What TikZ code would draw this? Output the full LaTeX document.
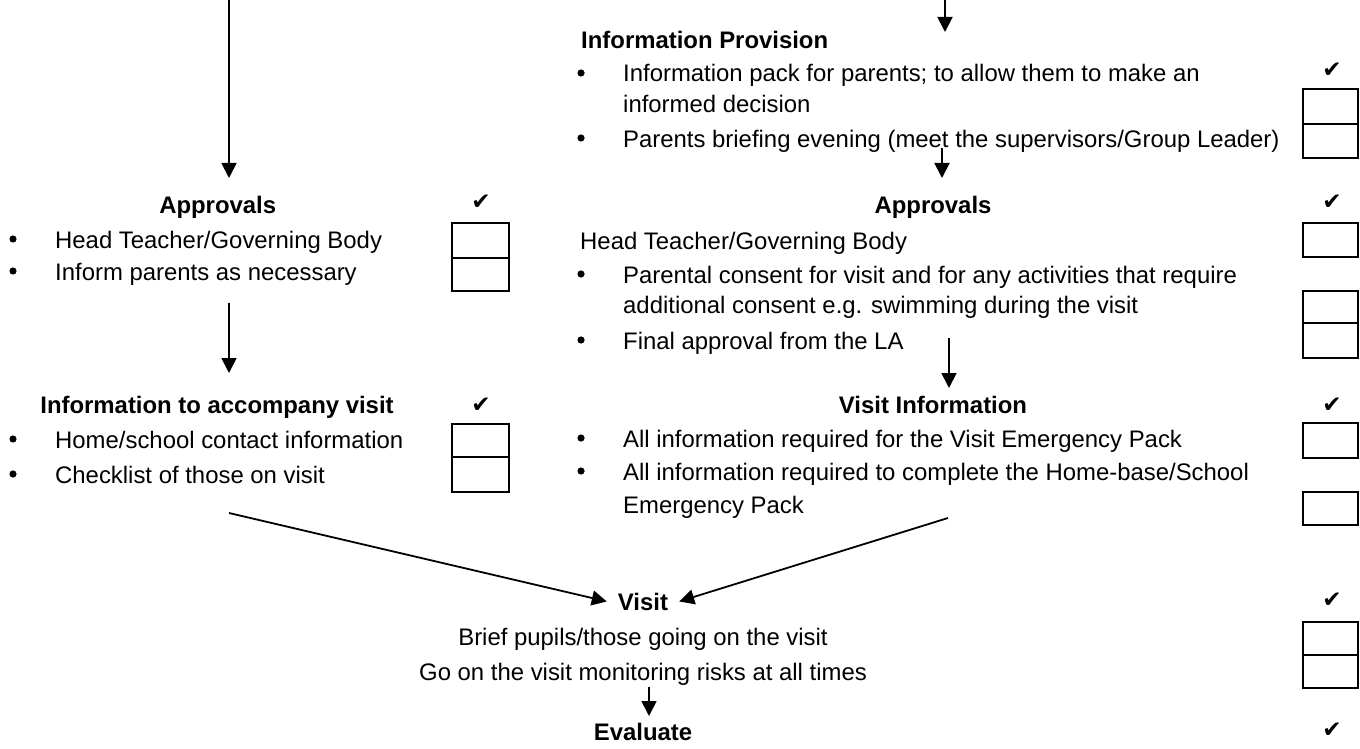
\documentclass[tikz,border=0pt]{standalone}
\usepackage{fontspec}
\setmainfont{Liberation Sans}
\newfontfamily\symfont{DejaVu Sans}
\usetikzlibrary{arrows.meta}
\begin{document}
\begin{tikzpicture}[x=1pt,y=-1pt,
  every node/.style={inner sep=0pt, font=\fontsize{23.9}{28}\selectfont},
  txt/.style={anchor=base west},
  hdc/.style={anchor=base, font=\fontsize{23.9}{28}\selectfont\bfseries},
  hdl/.style={anchor=base west, font=\fontsize{23.9}{28}\selectfont\bfseries},
  ctr/.style={anchor=base},
  arr/.style={-{Triangle[width=15pt,length=15pt]}, line width=1.8pt},
  tick/.style={anchor=center, font=\symfont\fontsize{23}{26}\selectfont},
  cbox/.style={line width=2pt},
  bul/.style={fill=black}
]
\useasboundingbox (0,0) rectangle (1360,749);

% ---------- left column ----------
\node[hdc] (apL) at (217.7,213) {Approvals};
\node[txt] (apL1) at (55,248) {Head Teacher/Governing Body};
\node[txt] (apL2) at (55,280) {Inform parents as necessary};
\node[hdc] (infL) at (217,413) {Information to accompany visit};
\node[txt] (infL1) at (55,448) {Home/school contact information};
\node[txt] (infL2) at (55,483) {Checklist of those on visit};

\foreach \y in {248,280,448,483} \fill[bul] (13,\y-9) circle (3.6);

\node[tick] (tkL1) at (481,202) {✔};
\node[tick] (tkL2) at (481,405) {✔};
\draw[cbox] (452,223) rectangle (509,258);
\draw[cbox] (452,258) rectangle (509,291);
\draw[cbox] (452,424) rectangle (509,457);
\draw[cbox] (452,457) rectangle (509,492);

% ---------- right column ----------
\node[hdl] (prov) at (581,49) {Information Provision};
\node[txt] (prov1) at (623,82) {Information pack for parents; to allow them to make an};
\node[txt] (prov1b) at (623,113) {informed decision};
\node[txt] (prov2) at (623,147) {Parents briefing evening (meet the supervisors/Group Leader)};

\node[hdc] (apR) at (933,213) {Approvals};
\node[txt] (apR0) at (580,249) {Head Teacher/Governing Body};
\node[txt] (apR1) at (623,283) {Parental consent for visit and for any activities that require};
\node[txt] (apR1b) at (623,313) {additional consent e.g. swimming during the visit};
\node[txt] (apR2) at (623,349) {Final approval from the LA};

\node[hdc] (vinf) at (933,413) {Visit Information};
\node[txt] (vinf1) at (623,447) {All information required for the Visit Emergency Pack};
\node[txt] (vinf2) at (623,480) {All information required to complete the Home-base/School};
\node[txt] (vinf2b) at (623,513) {Emergency Pack};

\foreach \y in {82,147,283,349,447,480} \fill[bul] (581,\y-9) circle (3.6);

\node[tick] (tkR1) at (1332,70) {✔};
\node[tick] (tkR2) at (1332,202) {✔};
\node[tick] (tkR3) at (1332,405) {✔};
\node[tick] (tkR4) at (1332,600) {✔};
\node[tick] (tkR5) at (1332,730) {✔};
\draw[cbox] (1303,89) rectangle (1358,124);
\draw[cbox] (1303,124) rectangle (1358,158);
\draw[cbox] (1303,223) rectangle (1358,257);
\draw[cbox] (1303,291) rectangle (1358,323);
\draw[cbox] (1303,323) rectangle (1358,358);
\draw[cbox] (1303,423) rectangle (1358,458);
\draw[cbox] (1303,492) rectangle (1358,525);
\draw[cbox] (1303,622) rectangle (1358,655);
\draw[cbox] (1303,655) rectangle (1358,688);

% ---------- bottom ----------
\node[hdc, inner xsep=11pt] (visit) at (643,610) {Visit};
\node[ctr] (vis1) at (643,645) {Brief pupils/those going on the visit};
\node[ctr] (vis2) at (643,680) {Go on the visit monitoring risks at all times};
\node[hdc] (eval) at (643,740) {Evaluate};

% ---------- connectors ----------
\coordinate (a1s) at (229,0);
\coordinate (a1e) at (229,178);
\coordinate (a2s) at (229,303);
\coordinate (a2e) at (229,373);
\coordinate (a3s) at (945,0);
\coordinate (a3e) at (945,32);
\coordinate (a4s) at (942,148);
\coordinate (a4e) at (942,178);
\coordinate (a5s) at (949,338);
\coordinate (a5e) at (949,388);
\coordinate (a6s) at (229,513);
\coordinate (a7s) at (948,518);
\coordinate (a8s) at (649,687);
\coordinate (a8e) at (649,716);

\draw[arr] (a1s) -- (a1e);
\draw[arr] (a2s) -- (a2e);
\draw[arr] (a3s) -- (a3e);
\draw[arr] (a4s) -- (a4e);
\draw[arr] (a5s) -- (a5e);
\draw[arr] (a6s) -- (visit.west);
\draw[arr] (a7s) -- (visit.east);
\draw[arr] (a8s) -- (a8e);
\end{tikzpicture}
\end{document}
